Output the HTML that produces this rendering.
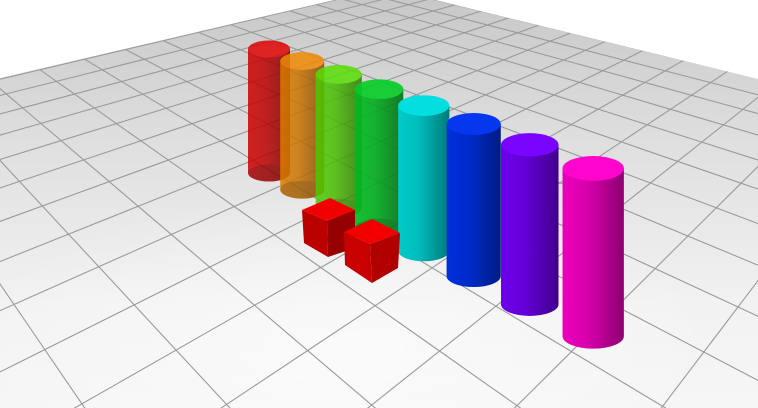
<!DOCTYPE html>
<html><head><meta charset="utf-8"><style>
html,body{margin:0;padding:0;background:#fff;width:758px;height:408px;overflow:hidden}
svg{display:block}
</style></head><body>
<svg id="scene" width="758" height="408" viewBox="0 0 758 408" xmlns="http://www.w3.org/2000/svg">
<defs>
<linearGradient id="floorG" x1="0" y1="0" x2="0" y2="1">
<stop offset="0" stop-color="#c6c6c6"/><stop offset="0.35" stop-color="#dedede"/><stop offset="0.75" stop-color="#f2f2f2"/><stop offset="1" stop-color="#f6f6f6"/>
</linearGradient>
<radialGradient id="spot" cx="0.45" cy="0.8" r="0.5">
<stop offset="0" stop-color="#ffffff" stop-opacity="0.6"/><stop offset="1" stop-color="#ffffff" stop-opacity="0"/>
</radialGradient>
<clipPath id="floorClip"><polygon points="0,78 386,-12 758,79 758,408 0,408"/></clipPath>
</defs>
<polygon points="0,78 386,-12 758,79 758,408 0,408" fill="url(#floorG)"/>
<rect x="0" y="100" width="758" height="308" fill="url(#spot)"/>
<g id="grid" clip-path="url(#floorClip)"></g>
<g id="cyls"></g>
<g id="cubes"></g>
</svg>
<script>
const categories = ["red","orange","lime","green","cyan","blue","violet","magenta"];
const colors = ["#e00000","#ee8800","#55dd00","#00cc22","#00dddd","#0033ee","#7700ff","#ff00cc"];
const values = [10,10,10,10,10,10,10,10];
const opacities = [0.85,0.85,0.85,0.9,1,1,1,1];
const NS="http://www.w3.org/2000/svg";
const svg=document.getElementById('scene');
function mk(tag,attrs,parent){const e=document.createElementNS(NS,tag);for(const k in attrs)e.setAttribute(k,attrs[k]);parent.appendChild(e);return e;}
const APEX=[386,-12],VP1=[1110,-183],VP2=[-319,-183],A=-0.0294,B=-0.0297;
function proj(u,v){const p=A*u,q=B*v,w=p+q+1;return [(p*VP1[0]+q*VP2[0]+APEX[0])/w,(p*VP1[1]+q*VP2[1]+APEX[1])/w];}
const grid=document.getElementById('grid');
const MAXS=31;
for(let k=0;k<=MAXS;k++){
  [0,1].forEach(fam=>{
    let d='';
    const tmax=MAXS-k;
    for(let s=0;s<=20;s++){const t=tmax*s/20;const p=fam?proj(k,t):proj(t,k);d+=(s?'L':'M')+p[0].toFixed(1)+','+p[1].toFixed(1);}
    const e=mk('path',{d:d,stroke:'#9a9a9a','stroke-width':'1.1',fill:'none'},grid);
    
    
  });
}
function shade(hex,f){const n=parseInt(hex.slice(1),16);const r=(n>>16)&255,g=(n>>8)&255,b=n&255;const c=v=>Math.max(0,Math.min(255,Math.round(f>1?v+(255-v)*(f-1):v*f)));return 'rgb('+c(r)+','+c(g)+','+c(b)+')';}
const defs=svg.querySelector('defs');
const cg=document.getElementById('cyls');
function scaleOf(i){return 1/(1-0.045*i);}
function xPos(i){return 269+705*(scaleOf(i)-1);}
function yPos(i){return 173+355*(scaleOf(i)-1);}
function hPx(v,i){return v*12.4*Math.pow(scaleOf(i),0.8);}
categories.forEach((c,i)=>{
  const s=scaleOf(i),cx=xPos(i),by=yPos(i),rx=21*s,ry=8.5*s,h=hPx(values[i],i),ty=by-h;
  const gid='cg'+i;
  const lg=mk('linearGradient',{id:gid,x1:'0',y1:'0',x2:'1',y2:'0'},defs);
  mk('stop',{offset:'0','stop-color':shade(colors[i],0.92)},lg);
  mk('stop',{offset:'0.4','stop-color':shade(colors[i],0.85)},lg);
  mk('stop',{offset:'1','stop-color':shade(colors[i],0.55)},lg);
  const g=mk('g',{opacity:opacities[i]},cg);
  
  
  mk('path',{d:`M${cx-rx},${ty} L${cx-rx},${by} A${rx},${ry} 0 0 0 ${cx+rx},${by} L${cx+rx},${ty} Z`,fill:`url(#${gid})`},g);
  mk('ellipse',{cx:cx,cy:by,rx:rx,ry:ry,fill:shade(colors[i],0.55),opacity:i<4?0.55:0},g);
  mk('ellipse',{cx:cx,cy:ty,rx:rx,ry:ry,fill:shade(colors[i],1.02)},g);
});
const cubes=document.getElementById('cubes');
const cubeData=[
 {top:[[330,198],[302,210],[327,221],[355,210]],bot:[[304,243],[328,257],[355,248]],cols:['#f00000','#bb0000','#950000']},
 {top:[[372,219],[344,232],[370,244],[400,233]],bot:[[345,265],[372,283],[398,268]],cols:['#f20000','#c80000','#b00000']}
];
cubeData.forEach((cb,k)=>{
  const g=mk('g',{},cubes);
  
  
  const [b,l,f,r]=cb.top,[bl,bf,br]=cb.bot;
  const P=p=>p.map(q=>q.join(',')).join(' ');
  mk('polygon',{points:P([l,f,bf,bl]),fill:cb.cols[1]},g);
  mk('polygon',{points:P([f,r,br,bf]),fill:cb.cols[2]},g);
  mk('polygon',{points:P([b,l,f,r]),fill:cb.cols[0]},g);
});
</script>
</body></html>
